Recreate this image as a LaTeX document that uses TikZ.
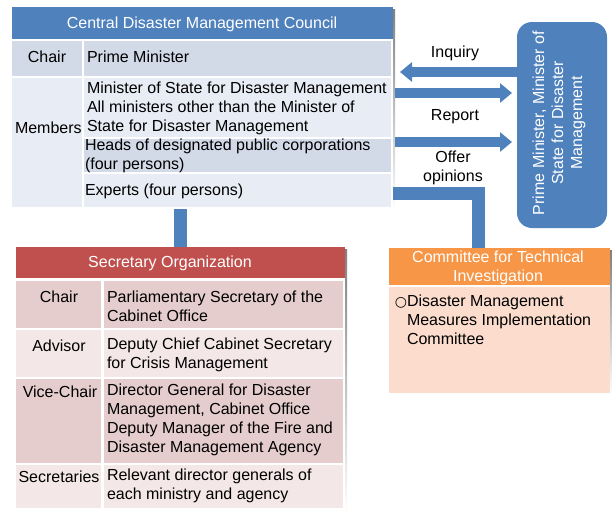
\documentclass[tikz,border=0pt]{standalone}
\usepackage{fontspec}
\setmainfont{Liberation Sans}
\newfontfamily\symfont{DejaVu Sans}
\usetikzlibrary{arrows.meta}
\definecolor{hblue}{HTML}{4F81BD}
\definecolor{rowA}{HTML}{D2DAE8}
\definecolor{rowB}{HTML}{E8ECF4}
\definecolor{hred}{HTML}{C0504D}
\definecolor{pinkA}{HTML}{E6CDCD}
\definecolor{pinkB}{HTML}{F3E7E7}
\definecolor{horange}{HTML}{F79646}
\definecolor{peach}{HTML}{FCDDCD}
\definecolor{shade}{HTML}{C8C8C8}
\tikzset{
  txt/.style={font=\fontsize{16}{19}\selectfont, inner sep=0pt, outer sep=0pt, align=left},
  ctxt/.style={font=\fontsize{16}{19}\selectfont, inner sep=0pt, outer sep=0pt, align=center},
  boxnode/.style={inner sep=0pt, outer sep=0pt, anchor=north west},
  fatarrow/.style={hblue, line width=10pt, -{Triangle[length=12pt,width=19pt]}},
  fatline/.style={hblue, line width=13pt},
}
\begin{document}
\begin{tikzpicture}[x=1pt,y=-1pt]
\useasboundingbox (0,0) rectangle (612,514);
\fill[white] (0,0) rectangle (612,514);

% ---------- Central Disaster Management Council ----------
\fill[shade] (14,9) rectangle (395,211);
\node[boxnode, fill=white, minimum width=381, minimum height=202] (council) at (12,7) {};
\fill[hblue] (12,7) rectangle (393,39);
\fill[rowA] (12,41) rectangle (82,76);
\fill[rowA] (84,41) rectangle (391,76);
\fill[rowB] (12,78) rectangle (82,207);
\fill[rowB] (84,78) rectangle (391,137);
\fill[rowA] (84,139) rectangle (391,172);
\fill[rowB] (84,174) rectangle (391,207);
\node[ctxt, text=white] (cdmc) at (202,24) {Central Disaster Management Council};
\node[ctxt] (cchair) at (47,56.5) {Chair};
\node[txt, anchor=west] (cpm) at (87,56.5) {Prime Minister};
\node[txt, anchor=west] (cmem) at (87,108) {Minister of State for Disaster Management\\All ministers other than the Minister of\\State for Disaster Management};
\node[txt, anchor=west] (cmemlab) at (15,127.5) {Members};
\node[txt, anchor=west] (cheads) at (85,156) {Heads of designated public corporations\\(four persons)};
\node[txt, anchor=west] (cexp) at (85,191) {Experts (four persons)};

% ---------- Prime Minister box ----------
\node[boxnode, fill=hblue, rounded corners=15pt, minimum width=90, minimum height=206] (pm) at (517,22) {};
\node[ctxt, text=white, rotate=90] (pmtext) at (559,123) {Prime Minister, Minister of\\State for Disaster\\Management};

% ---------- Secretary Organization ----------
\fill[shade] (18,249) rectangle (347,512);
\node[boxnode, fill=white, minimum width=329, minimum height=263] (secr) at (16,247) {};
\fill[hred] (16,247) rectangle (345,278);
\fill[pinkA] (16,281) rectangle (101,328);
\fill[pinkA] (104,281) rectangle (343,328);
\fill[pinkB] (16,330) rectangle (101,377);
\fill[pinkB] (104,330) rectangle (343,377);
\fill[pinkA] (16,379) rectangle (101,463);
\fill[pinkA] (104,379) rectangle (343,463);
\fill[pinkB] (16,465) rectangle (101,508);
\fill[pinkB] (104,465) rectangle (343,508);
\node[ctxt, text=white] (sotitle) at (170,263) {Secretary Organization};
\node[ctxt] (schair) at (59,296.5) {Chair};
\node[txt, anchor=west] (schairv) at (107,306) {Parliamentary Secretary of the\\Cabinet Office};
\node[ctxt] (sadv) at (59,346) {Advisor};
\node[txt, anchor=west] (sadvv) at (107,355) {Deputy Chief Cabinet Secretary\\for Crisis Management};
\node[ctxt] (svice) at (60,392) {Vice-Chair};
\node[txt, anchor=west] (svicev) at (107,420) {Director General for Disaster\\Management, Cabinet Office\\Deputy Manager of the Fire and\\Disaster Management Agency};
\node[ctxt] (ssec) at (59,477) {Secretaries};
\node[txt, anchor=west] (ssecv) at (107,486) {Relevant director generals of\\each ministry and agency};

% ---------- Committee for Technical Investigation ----------
\fill[shade] (391,250) rectangle (612,395);
\node[boxnode, fill=white, minimum width=221, minimum height=145] (comm) at (389,248) {};
\fill[horange] (389,248) rectangle (610,285);
\fill[peach] (389,287) rectangle (610,393);
\node[ctxt, text=white] (cttitle) at (498,267.5) {Committee for Technical\\Investigation};
\node[txt, anchor=north west] (ctbody) at (407,295) {\llap{{\symfont\fontsize{14}{19}\selectfont ○}}Disaster Management\\Measures Implementation\\Committee};

% ---------- connectors ----------
\coordinate (inqy) at (0,72);
\coordinate (inqtip) at (400,72);
\coordinate (rep1) at (395,93);
\coordinate (rep1tip) at (512,93);
\coordinate (rep2) at (395,142);
\coordinate (rep2tip) at (512,142);
\coordinate (offy) at (0,193.5);
\draw[fatarrow] (pm.west |- inqy) -- (inqtip);
\draw[fatarrow] (rep1) -- (rep1tip);
\draw[fatarrow] (rep2) -- (rep2tip);
\draw[fatline] (council.east |- offy) -| ([xshift=-21pt]comm.north);
\draw[fatline] (secr.north |- council.south) -- (secr.north);

\node[ctxt] (linq) at (455,53) {Inquiry};
\node[ctxt] (lrep) at (455,117) {Report};
\node[ctxt] (loff) at (453,168) {Offer\\opinions};
\end{tikzpicture}
\end{document}
